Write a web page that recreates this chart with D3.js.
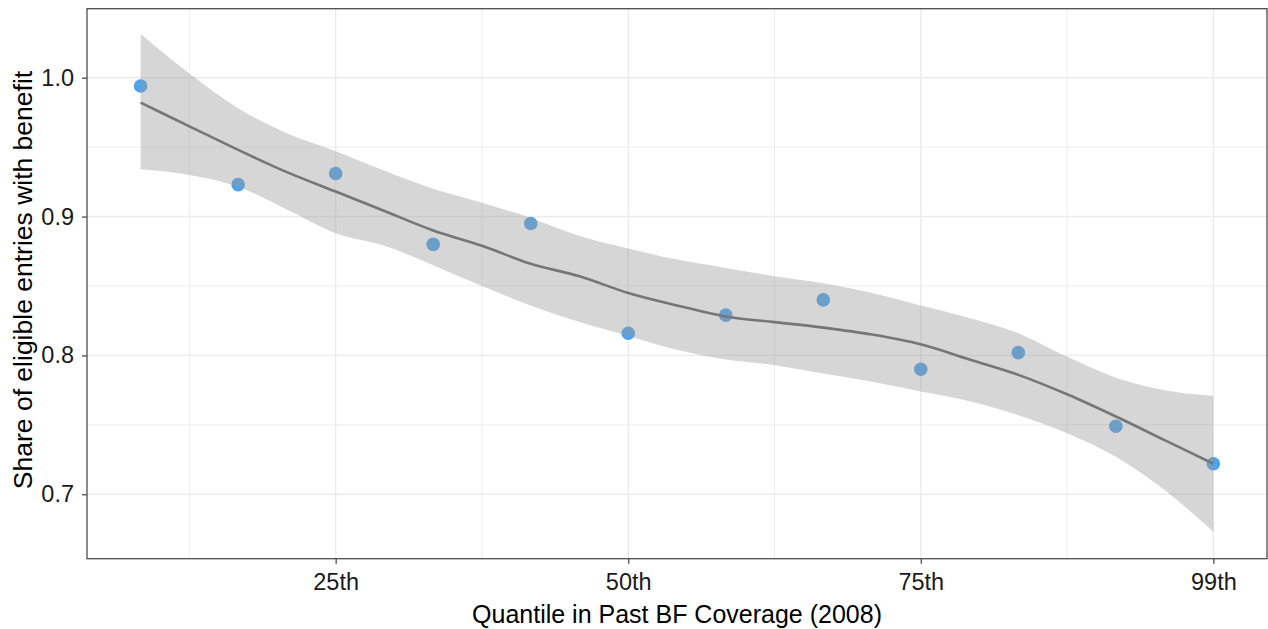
<!DOCTYPE html>
<html>
<head>
<meta charset="utf-8">
<script src="https://cdn.jsdelivr.net/npm/d3@7"></script>
<style>
  html, body { margin: 0; padding: 0; background: #fff; }
  svg { display: block; font-family: "Liberation Sans", Arial, sans-serif; }
</style>
</head>
<body>
<svg id="chart" width="1268" height="629"></svg>
<script>
// ---- Data ----
// Quantile bins (1..12), labelled every third bin
const binIndex = [1, 2, 3, 4, 5, 6, 7, 8, 9, 10, 11, 12];
const shareValues = [0.994, 0.923, 0.931, 0.880, 0.895, 0.816, 0.829, 0.840, 0.790, 0.802, 0.749, 0.722];

// Loess smooth (evaluated at half-bin steps)
const smoothX = [1, 1.5, 2, 2.5, 3, 3.5, 4, 4.5, 5, 5.5, 6, 6.5, 7, 7.5, 8, 8.5, 9, 9.5, 10, 10.5, 11, 11.5, 12];
const smoothFit = [0.982, 0.965, 0.948, 0.932, 0.918, 0.904, 0.890, 0.879, 0.866, 0.857, 0.845, 0.836, 0.828, 0.824, 0.820, 0.815, 0.808, 0.797, 0.786, 0.772, 0.756, 0.739, 0.722];
const smoothUpper = [1.0315, 1.003, 0.978, 0.960, 0.947, 0.933, 0.920, 0.910, 0.899, 0.886, 0.877, 0.869, 0.863, 0.857, 0.852, 0.845, 0.836, 0.827, 0.816, 0.799, 0.784, 0.775, 0.771];
const smoothLower = [0.934, 0.930, 0.9215, 0.905, 0.888, 0.879, 0.865, 0.850, 0.836, 0.824, 0.814, 0.804, 0.797, 0.793, 0.787, 0.781, 0.774, 0.767, 0.757, 0.744, 0.727, 0.703, 0.673];

const xTickValues = [3, 6, 9, 12];
const xTickLabels = ["25th", "50th", "75th", "99th"];
const xMinor = [1.5, 4.5, 7.5, 10.5];
const yTickValues = [0.7, 0.8, 0.9, 1.0];
const yMinor = [0.75, 0.85, 0.95];

const xTitle = "Quantile in Past BF Coverage (2008)";
const yTitle = "Share of eligible entries with benefit";

// ---- Layout ----
const panel = { left: 87, right: 1267, top: 8.7, bottom: 558.7 };

const x = d3.scaleLinear().domain([0.45, 12.55]).range([panel.left, panel.right]);
const y = d3.scaleLinear().domain([0.6536, 1.0497]).range([panel.bottom, panel.top]);

const svg = d3.select("#chart");

svg.append("rect").attr("x", panel.left).attr("y", panel.top)
  .attr("width", panel.right - panel.left).attr("height", panel.bottom - panel.top)
  .attr("fill", "#fff");

const grid = svg.append("g");
grid.selectAll("line.xminor").data(xMinor).enter().append("line")
  .attr("x1", d => x(d)).attr("x2", d => x(d)).attr("y1", panel.top).attr("y2", panel.bottom)
  .attr("stroke", "#EBEBEB").attr("stroke-width", 0.9);
grid.selectAll("line.yminor").data(yMinor).enter().append("line")
  .attr("y1", d => y(d)).attr("y2", d => y(d)).attr("x1", panel.left).attr("x2", panel.right)
  .attr("stroke", "#EBEBEB").attr("stroke-width", 0.9);
grid.selectAll("line.xmajor").data(xTickValues).enter().append("line")
  .attr("x1", d => x(d)).attr("x2", d => x(d)).attr("y1", panel.top).attr("y2", panel.bottom)
  .attr("stroke", "#EBEBEB").attr("stroke-width", 1.4);
grid.selectAll("line.ymajor").data(yTickValues).enter().append("line")
  .attr("y1", d => y(d)).attr("y2", d => y(d)).attr("x1", panel.left).attr("x2", panel.right)
  .attr("stroke", "#EBEBEB").attr("stroke-width", 1.4);

// Points (under the ribbon, as in the original)
svg.append("g").selectAll("circle").data(binIndex).enter().append("circle")
  .attr("cx", d => x(d)).attr("cy", (d, i) => y(shareValues[i]))
  .attr("r", 6.8).attr("fill", "#4FA2EC");

// Ribbon
const smoothData = smoothX.map((d, i) => ({ x: d, fit: smoothFit[i], lo: smoothLower[i], hi: smoothUpper[i] }));
const area = d3.area().x(d => x(d.x)).y0(d => y(d.lo)).y1(d => y(d.hi)).curve(d3.curveMonotoneX);
svg.append("path").datum(smoothData).attr("d", area)
  .attr("fill", "#999999").attr("fill-opacity", 0.4);

// Smooth line
const line = d3.line().x(d => x(d.x)).y(d => y(d.fit)).curve(d3.curveMonotoneX);
svg.append("path").datum(smoothData).attr("d", line)
  .attr("fill", "none").attr("stroke", "#767676").attr("stroke-width", 2.6);

// Panel border
svg.append("rect").attr("x", panel.left).attr("y", panel.top)
  .attr("width", panel.right - panel.left).attr("height", panel.bottom - panel.top)
  .attr("fill", "none").attr("stroke", "#4D4D4D").attr("stroke-width", 1.3);

// Axes
const xAxis = d3.axisBottom(x).tickValues(xTickValues)
  .tickFormat((d, i) => xTickLabels[i]).tickSize(5).tickPadding(10);
const gx = svg.append("g").attr("transform", `translate(0,${panel.bottom})`).call(xAxis);
gx.select(".domain").remove();
gx.selectAll(".tick line").attr("stroke", "#4D4D4D").attr("stroke-width", 1.3);
gx.selectAll(".tick text").attr("font-size", "23.5px").attr("fill", "#1a1a1a")
  .attr("font-family", "Liberation Sans, Arial, sans-serif");

const yAxis = d3.axisLeft(y).tickValues(yTickValues)
  .tickFormat(d3.format(".1f")).tickSize(5).tickPadding(8);
const gy = svg.append("g").attr("transform", `translate(${panel.left},0)`).call(yAxis);
gy.select(".domain").remove();
gy.selectAll(".tick line").attr("stroke", "#4D4D4D").attr("stroke-width", 1.3);
gy.selectAll(".tick text").attr("font-size", "23.5px").attr("fill", "#1a1a1a")
  .attr("font-family", "Liberation Sans, Arial, sans-serif");

// Titles
svg.append("text").attr("x", (panel.left + panel.right) / 2).attr("y", 623)
  .attr("text-anchor", "middle").attr("font-size", "25px").attr("fill", "#000")
  .text(xTitle);
svg.append("text")
  .attr("transform", `translate(32,280) rotate(-90)`)
  .attr("text-anchor", "middle").attr("font-size", "26.5px").attr("fill", "#000")
  .text(yTitle);
</script>
</body>
</html>
